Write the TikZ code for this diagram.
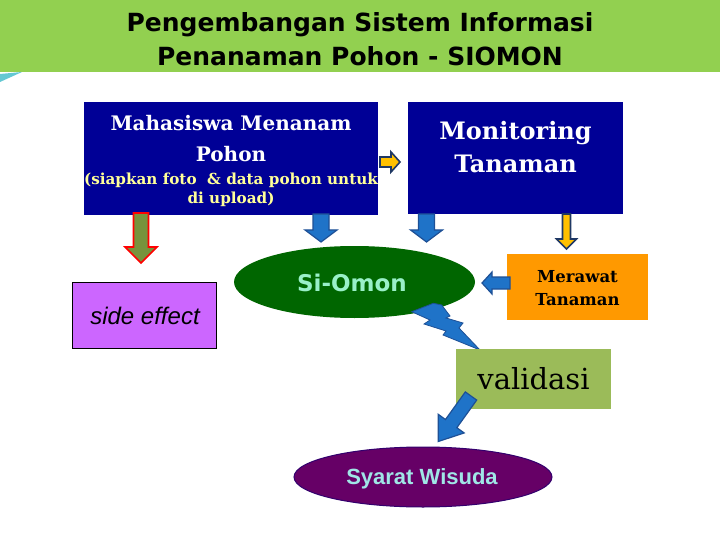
\documentclass[tikz,border=0pt]{standalone}
\usepackage{fontspec}
\setmainfont{DejaVu Serif}
\newfontfamily\titlefont{DejaVu Sans}
\newfontfamily\arialfont{Liberation Sans}
\usetikzlibrary{shapes.geometric}
\definecolor{titlegreen}{RGB}{146,208,80}
\definecolor{boxblue}{RGB}{0,0,150}
\definecolor{subyellow}{RGB}{255,255,153}
\definecolor{ellgreen}{RGB}{0,102,0}
\definecolor{mint}{RGB}{153,240,200}
\definecolor{orangebox}{RGB}{255,153,0}
\definecolor{purplebox}{RGB}{204,102,255}
\definecolor{valgreen}{RGB}{155,187,89}
\definecolor{ellpurple}{RGB}{102,0,102}
\definecolor{ellpurpleedge}{RGB}{51,0,110}
\definecolor{lightcyan}{RGB}{160,230,230}
\definecolor{arrblue}{RGB}{31,115,200}
\definecolor{arrblueedge}{RGB}{30,80,150}
\definecolor{olive}{RGB}{119,147,60}
\definecolor{arryellow}{RGB}{255,192,0}
\definecolor{darkedge}{RGB}{31,56,100}
\definecolor{teal}{RGB}{100,200,210}
\newcommand\blkarrow[8]{%
  \begin{scope}[shift={(#1,#2)},rotate=#3]
    \draw[#8] (0,-#5/2) -- (#4-#7,-#5/2) -- (#4-#7,-#6/2) -- (#4,0) -- (#4-#7,#6/2) -- (#4-#7,#5/2) -- (0,#5/2) -- cycle;
  \end{scope}}
\tikzset{
  bluearr/.style={fill=arrblue, draw=arrblueedge, line width=1.2pt, line join=miter},
  yellowarr/.style={fill=arryellow, draw=darkedge, line width=1.6pt, line join=miter},
  redarr/.style={fill=olive, draw=red, line width=1.6pt, line join=miter},
  whitetxt/.style={text=white, font=\bfseries\fontsize{#1}{#1}\selectfont, anchor=base, inner sep=0pt},
}
\begin{document}
\begin{tikzpicture}[x=1pt,y=-1pt]
\useasboundingbox (0,0) rectangle (720,540);
\fill[white] (0,0) rectangle (720,540);
% title band
\fill[titlegreen] (0,0) rectangle (720,72);
\fill[teal] (0,74) -- (22,72) -- (0,82) -- cycle;
\node[font=\titlefont\bfseries\fontsize{25}{25}\selectfont, anchor=base, inner sep=0pt] (t1) at (360,32) {Pengembangan Sistem Informasi};
\node[font=\titlefont\bfseries\fontsize{25}{25}\selectfont, anchor=base, inner sep=0pt] (t2) at (360,66) {Penanaman Pohon - SIOMON};

% boxes
\node[fill=boxblue, minimum width=294pt, minimum height=113pt, inner sep=0pt] (box1) at (231,158.5) {};
\node[whitetxt=20] (b1a) at (231,131) {Mahasiswa Menanam};
\node[whitetxt=20] (b1b) at (231,162) {Pohon};
\node[whitetxt=15.2, text=subyellow] (b1c) at (231,185) {(siapkan foto \ \& data pohon untuk};
\node[whitetxt=15.2, text=subyellow] (b1d) at (231,204) {di upload)};

\node[fill=boxblue, minimum width=215pt, minimum height=112pt, inner sep=0pt] (box2) at (515.5,158) {};
\node[whitetxt=24] (b2a) at (515.5,140) {Monitoring};
\node[whitetxt=24] (b2b) at (515.5,173) {Tanaman};

% ellipse Si-Omon
\node[ellipse, fill=ellgreen, minimum width=241pt, minimum height=72pt, inner sep=0pt] (siomon) at (354.5,282) {};
\node[font=\titlefont\bfseries\fontsize{23}{23}\selectfont, text=mint, inner sep=0pt] (siomont) at (352,283) {Si-Omon};

% lightning
\fill[arrblue, draw=arrblueedge, line width=0.8pt, line join=miter]
  (411.7,311.7) -- (433.3,303.3) -- (441.7,305) -- (450,316) -- (446,318) -- (463,323)
  -- (459,328) -- (480,350) -- (443,335) -- (446,331) -- (424,324) -- (430,320) -- cycle;

% orange box
\node[fill=orangebox, minimum width=141pt, minimum height=66pt, inner sep=0pt] (merawat) at (577.5,287) {};
\node[whitetxt=16.5, text=black] (m1) at (577.5,282) {Merawat};
\node[whitetxt=16.5, text=black] (m2) at (577.5,305) {Tanaman};

% side effect
\node[fill=purplebox, draw=black, line width=0.8pt, minimum width=144pt, minimum height=66pt, inner sep=0pt] (side) at (144,315) {};
\node[font=\arialfont\itshape\fontsize{24}{24}\selectfont, anchor=base, inner sep=0pt] (sidet) at (145,324) {side effect};

% validasi
\node[fill=valgreen, minimum width=155pt, minimum height=60pt, inner sep=0pt] (valid) at (533.5,379) {};
\node[whitetxt=29, text=black, font=\mdseries\fontsize{29}{29}\selectfont] (validt) at (533.5,389) {validasi};

% Syarat Wisuda
\node[ellipse, fill=ellpurple, draw=ellpurpleedge, line width=1pt, minimum width=258pt, minimum height=60pt, inner sep=0pt] (wisuda) at (423,477) {};
\node[font=\arialfont\bfseries\fontsize{22}{22}\selectfont, text=lightcyan, anchor=base, inner sep=0pt] (wisudat) at (422,484) {Syarat Wisuda};

% block arrows
\blkarrow{380}{162}{0}{20}{10}{20}{9}{yellowarr}
\blkarrow{141}{213}{-90}{50}{15}{32}{16}{redarr}
\blkarrow{321}{214}{-90}{28}{16}{32}{12}{bluearr}
\blkarrow{426.5}{214}{-90}{28}{16}{32}{12}{bluearr}
\blkarrow{566.5}{214}{-90}{35}{8}{20}{10}{yellowarr}
\blkarrow{510}{283}{180}{28}{12}{22}{10}{bluearr}
\blkarrow{471}{396}{234.3}{56}{14}{32}{22}{bluearr}
\end{tikzpicture}
\end{document}
